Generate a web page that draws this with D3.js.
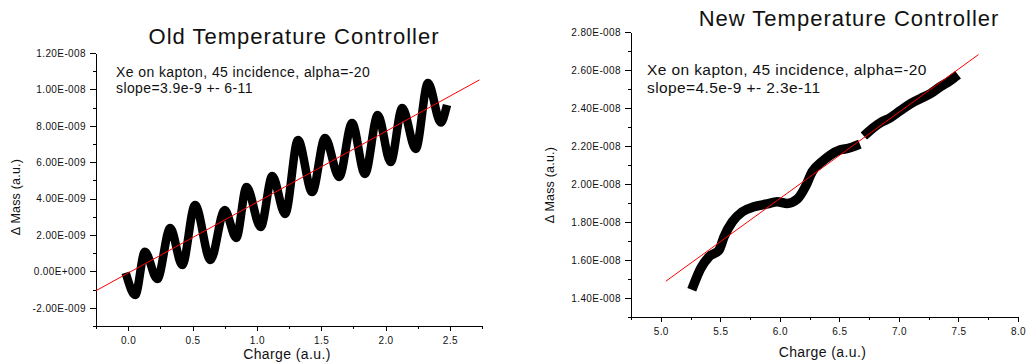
<!DOCTYPE html>
<html>
<head>
<meta charset="utf-8">
<script src="https://cdn.jsdelivr.net/npm/d3@7"></script>
<style>
  html, body { margin: 0; padding: 0; background: #fff; }
  svg { display: block; }
  text { font-family: "Liberation Sans", Arial, Helvetica, sans-serif; fill: #111; }
  .axis path, .axis line { stroke: #000; stroke-width: 1; shape-rendering: crispEdges; }
</style>
</head>
<body>
<svg id="chart" width="1026" height="362"></svg>
<script>
// ---------- DATA ----------
// Left panel: Old Temperature Controller
const oldTitle = "Old Temperature Controller";
const oldNote = ["Xe on kapton, 45 incidence, alpha=-20", "slope=3.9e-9 +- 6-11"];
const oldCharge = [-0.01, 0.055, 0.13, 0.226, 0.327, 0.42, 0.52, 0.64, 0.75, 0.84, 0.92, 1.03, 1.12, 1.22, 1.32, 1.43, 1.53, 1.64, 1.74, 1.84, 1.94, 2.04, 2.13, 2.235, 2.33, 2.43, 2.47];
const oldMass = [-0.3e-9, -1.30e-9, 1.08e-9, -0.42e-9, 2.38e-9, 0.35e-9, 3.65e-9, 0.63e-9, 3.37e-9, 1.84e-9, 4.64e-9, 2.44e-9, 5.24e-9, 3.16e-9, 7.22e-9, 4.36e-9, 7.33e-9, 5.19e-9, 8.15e-9, 5.35e-9, 8.59e-9, 6.01e-9, 8.98e-9, 6.73e-9, 10.35e-9, 8.18e-9, 8.92e-9];
const oldFitCharge = [-0.25, 2.73];
const oldFitMass = [-1.06e-9, 10.52e-9];
const oldXTicks = [0.0, 0.5, 1.0, 1.5, 2.0, 2.5];
const oldXLabels = ["0.0", "0.5", "1.0", "1.5", "2.0", "2.5"];
const oldXMinor = [-0.25, 0.25, 0.75, 1.25, 1.75, 2.25, 2.75];
const oldYTicks = [-2e-9, 0, 2e-9, 4e-9, 6e-9, 8e-9, 1e-8, 1.2e-8];
const oldYLabels = ["-2.00E-009", "0.00E+000", "2.00E-009", "4.00E-009", "6.00E-009", "8.00E-009", "1.00E-008", "1.20E-008"];
const oldYMinor = [-3e-9, -1e-9, 1e-9, 3e-9, 5e-9, 7e-9, 9e-9, 1.1e-8];

// Right panel: New Temperature Controller
const newTitle = "New Temperature Controller";
const newNote = ["Xe on kapton, 45 incidence, alpha=-20", "slope=4.5e-9 +- 2.3e-11"];
const newCharge1 = [5.275, 5.335, 5.405, 5.489, 5.531, 5.601, 5.685, 5.782, 5.894, 5.978, 6.062, 6.146, 6.215, 6.272, 6.355, 6.425, 6.509, 6.576, 6.635];
const newMass1 = [14.67e-9, 15.55e-9, 16.17e-9, 16.52e-9, 17.22e-9, 18.01e-9, 18.54e-9, 18.80e-9, 18.95e-9, 19.07e-9, 18.98e-9, 19.20e-9, 19.86e-9, 20.65e-9, 21.18e-9, 21.53e-9, 21.80e-9, 21.88e-9, 22.01e-9];
const newCharge2 = [6.735, 6.785, 6.844, 6.928, 7.012, 7.096, 7.179, 7.263, 7.347, 7.431, 7.465];
const newMass2 = [22.69e-9, 22.96e-9, 23.22e-9, 23.49e-9, 23.86e-9, 24.22e-9, 24.49e-9, 24.75e-9, 25.12e-9, 25.44e-9, 25.60e-9];
const newFitCharge = [5.042, 7.668];
const newFitMass = [14.88e-9, 26.81e-9];
const newXTicks = [5.0, 5.5, 6.0, 6.5, 7.0, 7.5, 8.0];
const newXLabels = ["5.0", "5.5", "6.0", "6.5", "7.0", "7.5", "8.0"];
const newXMinor = [4.75, 5.25, 5.75, 6.25, 6.75, 7.25, 7.75];
const newYTicks = [1.4e-8, 1.6e-8, 1.8e-8, 2.0e-8, 2.2e-8, 2.4e-8, 2.6e-8, 2.8e-8];
const newYLabels = ["1.40E-008", "1.60E-008", "1.80E-008", "2.00E-008", "2.20E-008", "2.40E-008", "2.60E-008", "2.80E-008"];
const newYMinor = [1.3e-8, 1.5e-8, 1.7e-8, 1.9e-8, 2.1e-8, 2.3e-8, 2.5e-8, 2.7e-8];

const xTitle = "Charge (a.u.)";
const yTitle = "\u0394 Mass (a.u.)";

// ---------- DRAW ----------
const svg = d3.select("#chart");

function panel(o) {
  const x = d3.scaleLinear().domain(o.xDomain).range([o.left, o.right]);
  const y = d3.scaleLinear().domain(o.yDomain).range([o.bottom, o.top]);
  const g = svg.append("g");

  // minor ticks
  g.append("g").attr("class", "axis").attr("transform", `translate(0,${o.bottom})`)
    .call(d3.axisBottom(x).tickValues(o.xMinor).tickSize(3).tickFormat(""))
    .call(s => s.select(".domain").remove());
  g.append("g").attr("class", "axis").attr("transform", `translate(${o.left},0)`)
    .call(d3.axisLeft(y).tickValues(o.yMinor).tickSize(3).tickFormat(""))
    .call(s => s.select(".domain").remove());

  // major axes
  const xa = g.append("g").attr("class", "axis").attr("transform", `translate(0,${o.bottom})`)
    .call(d3.axisBottom(x).tickValues(o.xTicks).tickSize(5).tickSizeOuter(0).tickPadding(6)
      .tickFormat((d, i) => o.xLabels[i]));
  xa.selectAll("text").attr("font-size", 10).style("letter-spacing", "0.4px").attr("fill", "#111");
  const ya = g.append("g").attr("class", "axis").attr("transform", `translate(${o.left},0)`)
    .call(d3.axisLeft(y).tickValues(o.yTicks).tickSize(6).tickSizeOuter(0).tickPadding(4)
      .tickFormat((d, i) => o.yLabels[i]));
  ya.selectAll("text").attr("font-size", 10).style("letter-spacing", "0.4px").attr("fill", "#111");

  // data
  const line = d3.line().x(d => x(d[0])).y(d => y(d[1])).curve(d3.curveMonotoneX);
  o.series.forEach(s => {
    g.append("path")
      .attr("d", line(d3.zip(s[0], s[1])))
      .attr("fill", "none").attr("stroke", "#000")
      .attr("stroke-width", o.thick).attr("stroke-linejoin", "round").attr("stroke-linecap", "square");
  });

  // fit
  g.append("path")
    .attr("d", d3.line().x(d => x(d[0])).y(d => y(d[1]))(d3.zip(o.fitX, o.fitY)))
    .attr("fill", "none").attr("stroke", "#ff0000").attr("stroke-width", 1);

  // titles
  g.append("text").attr("x", o.titleX).attr("y", o.titleY).attr("text-anchor", "middle")
    .attr("font-size", 22).style("letter-spacing", "1px").text(o.title);
  o.note.forEach((t, i) => {
    g.append("text").attr("x", o.noteX).attr("y", o.noteY[i])
      .attr("font-size", o.noteSize).style("letter-spacing", o.noteSpacing + "px").text(t);
  });
  g.append("text").attr("x", (o.left + o.right) / 2 - 2).attr("y", o.xTitleY).attr("text-anchor", "middle")
    .attr("font-size", 14).style("letter-spacing", "0.4px").text(xTitle);
  g.append("text").attr("transform", `translate(${o.yTitleX},${o.yTitleCY}) rotate(-90)`)
    .attr("text-anchor", "middle").attr("font-size", 12.5).style("letter-spacing", "0.2px").text(yTitle);
}

panel({
  left: 96, right: 482, top: 53, bottom: 326,
  xDomain: [-0.25, 2.75], yDomain: [-3e-9, 1.2e-8],
  xTicks: oldXTicks, xLabels: oldXLabels, xMinor: oldXMinor,
  yTicks: oldYTicks, yLabels: oldYLabels, yMinor: oldYMinor,
  series: [[oldCharge, oldMass]], thick: 8.5,
  fitX: oldFitCharge, fitY: oldFitMass,
  title: oldTitle, titleX: 294, titleY: 44,
  note: oldNote, noteX: 116, noteY: [76.7, 92.7], noteSize: 14, noteSpacing: 0.4,
  xTitleY: 359, yTitleX: 19.5, yTitleCY: 197
});

panel({
  left: 631, right: 1018, top: 32, bottom: 317,
  xDomain: [4.75, 8.0], yDomain: [1.3e-8, 2.8e-8],
  xTicks: newXTicks, xLabels: newXLabels, xMinor: newXMinor,
  yTicks: newYTicks, yLabels: newYLabels, yMinor: newYMinor,
  series: [[newCharge1, newMass1], [newCharge2, newMass2]], thick: 9.5,
  fitX: newFitCharge, fitY: newFitMass,
  title: newTitle, titleX: 849, titleY: 26,
  note: newNote, noteX: 647, noteY: [75, 92.7], noteSize: 15.5, noteSpacing: 0.4,
  xTitleY: 356.7, yTitleX: 554, yTitleCY: 185
});
</script>
</body>
</html>
